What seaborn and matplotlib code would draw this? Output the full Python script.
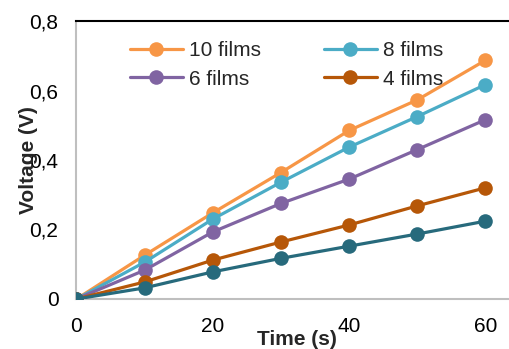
import matplotlib
matplotlib.use("Agg")
import matplotlib.pyplot as plt
import seaborn as sns
import pandas as pd
from matplotlib.ticker import FuncFormatter, FixedLocator

# Measured voltage for each film stack over time
time_s = [0, 10, 20, 30, 40, 50, 60]
films_10 = [0, 0.126, 0.248, 0.364, 0.485, 0.573, 0.687]
films_8 = [0, 0.106, 0.230, 0.336, 0.437, 0.525, 0.617]
films_6 = [0, 0.083, 0.193, 0.275, 0.345, 0.430, 0.516]
films_4 = [0, 0.049, 0.112, 0.164, 0.213, 0.268, 0.320]
films_2 = [0, 0.032, 0.078, 0.117, 0.152, 0.187, 0.224]

series = [
    ("10 films", films_10, "#F79646", True),
    ("8 films", films_8, "#4BACC6", True),
    ("6 films", films_6, "#8064A2", True),
    ("4 films", films_4, "#B65708", True),
    ("2 films", films_2, "#276A7C", False),
]

x_ticks = list(range(0, 64, 4))
x_labels = [0, 20, 40, 60]
y_ticks = [0, 0.2, 0.4, 0.6, 0.8]

rows = []
for name, vals, _, _ in series:
    for t, v in zip(time_s, vals):
        rows.append({"Time": t, "Voltage": v, "Series": name})
df = pd.DataFrame(rows)

sns.set_style("white")
plt.rcParams["font.family"] = ["Liberation Sans", "DejaVu Sans"]
FS = 15

fig = plt.figure(figsize=(5.10, 3.49), dpi=100)
ax = fig.add_axes([0.15, 0.1433, 0.85, 0.7965])

handles = {}
for name, vals, color, in_legend in series:
    sub = df[df["Series"] == name]
    sns.lineplot(data=sub, x="Time", y="Voltage", ax=ax, color=color,
                 marker="o", markersize=10.5, markeredgewidth=0,
                 linewidth=2.3, label=name if in_legend else "_nolegend_",
                 legend=False, zorder=3)
    if in_legend:
        handles[name] = ax.lines[-1]

ax.set_xlim(0, 63.6)
ax.set_ylim(0, 0.8)

ax.xaxis.set_major_locator(FixedLocator(x_ticks))
ax.xaxis.set_major_formatter(FuncFormatter(
    lambda v, p: f"{int(round(v))}" if int(round(v)) in x_labels else ""))
ax.yaxis.set_major_locator(FixedLocator(y_ticks))
ax.yaxis.set_major_formatter(FuncFormatter(
    lambda v, p: "0" if abs(v) < 1e-9 else f"{v:.1f}".replace(".", ",")))

for side in ("left", "bottom"):
    ax.spines[side].set_color("#BFBFBF")
    ax.spines[side].set_linewidth(1.5)
ax.spines["top"].set_color("black")
ax.spines["top"].set_linewidth(1.5)
ax.spines["right"].set_visible(False)
for side in ("left", "bottom", "top"):
    ax.spines[side].set_zorder(1)

ax.tick_params(axis="both", which="major", direction="out", length=4,
               width=1.2, color="#BFBFBF", labelsize=FS, labelcolor="black")
ax.tick_params(axis="x", pad=9)
ax.tick_params(axis="y", pad=9)
ax.grid(False)

ax.set_xlabel("Time (s)", fontsize=FS, fontweight="bold")
ax.xaxis.set_label_coords(0.509, -0.112)
ax.set_ylabel("Voltage (V)", fontsize=FS, fontweight="bold")
ax.yaxis.set_label_coords(-0.089, 0.5)

order = ["10 films", "6 films", "8 films", "4 films"]
leg = ax.legend([handles[n] for n in order], order, ncol=2,
                loc="upper left", bbox_to_anchor=(0.123, 0.927),
                frameon=False, fontsize=FS, handlelength=2.55,
                handletextpad=0.3, columnspacing=3.0, labelspacing=0.45,
                borderaxespad=0, borderpad=0)

fig.savefig("out.png", dpi=100)
